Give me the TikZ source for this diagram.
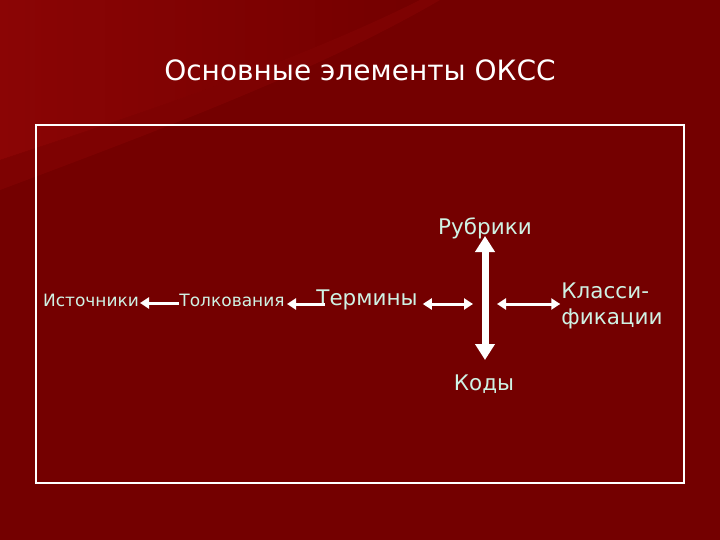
\documentclass[tikz,border=0pt]{standalone}
\usepackage{fontspec}
\setmainfont{DejaVu Sans}
\usetikzlibrary{arrows.meta}
\definecolor{bg}{HTML}{740000}
\definecolor{bgl}{HTML}{8E0606}
\definecolor{txt}{HTML}{CFF2E4}
\begin{document}
\begin{tikzpicture}[x=1pt,y=-1pt,
  lab/.style={text=txt,inner sep=0pt,font=\fontsize{17}{20}\selectfont},
  big/.style={text=txt,inner sep=1pt,font=\fontsize{21.5}{26}\selectfont,align=left},
  arr/.style={draw=white,line width=3pt,-{Triangle[length=9pt,width=11pt]}},
  darr/.style={draw=white,line width=3pt,{Triangle[length=9pt,width=11pt]}-{Triangle[length=9pt,width=11pt]}},
  varr/.style={draw=white,line width=7pt,{Triangle[length=16pt,width=19pt]}-{Triangle[length=16pt,width=19pt]}}]
\useasboundingbox (0,0) rectangle (720,540);
\fill[bg] (0,0) rectangle (720,540);
\shade[left color=bgl,right color=bg,opacity=0.9] (0,0) -- (420,0) .. controls (300,60) and (150,110) .. (0,160) -- cycle;
\fill[bgl!80!bg,opacity=0.5] (0,160) .. controls (150,110) and (300,60) .. (420,0) -- (440,0) .. controls (320,70) and (160,130) .. (0,190) -- cycle;
\node[text=white,font=\fontsize{28}{32}\selectfont] (title) at (360,70) {Основные элементы ОКСС};
\draw[white,line width=1.2pt] (36,125) rectangle (684,483);
\node[lab] (ist) at (91,300) {Источники};
\node[lab] (tol) at (232,300) {Толкования};
\node[big] (ter) at (367,300) {Термины};
\node[big] (rub) at (485,228) {Рубрики};
\node[big] (kod) at (484,384) {Коды};
\node[big] (kla) at (612,306) {Класси-\\фикации};
\coordinate (c) at (485,304);
\coordinate (a1s) at (179,303); \coordinate (a1e) at (140,303);
\coordinate (a2s) at (325,304); \coordinate (a2e) at (287,304);
\draw[arr] (a1s) -- (a1e);
\draw[arr] (a2s) -- (a2e);
\draw[darr] ([xshift=4pt]ter.east |- 0,304) -- ([xshift=-12pt]c);
\draw[darr] ([xshift=12pt]c) -- (kla.west |- 0,304);
\draw[varr] ([yshift=-56pt]c) -- ([yshift=68pt]c);
\end{tikzpicture}
\end{document}
